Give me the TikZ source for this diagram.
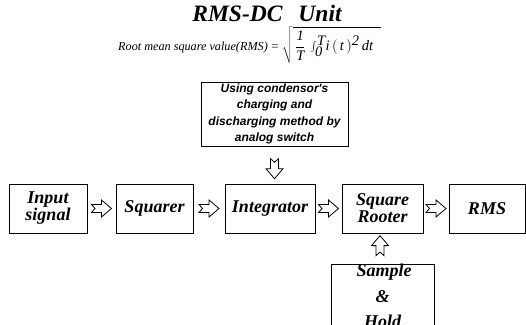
\documentclass[tikz,border=0pt]{standalone}
\usepackage{fontspec}
\setmainfont{Liberation Serif}
\newfontfamily\boxsans{Liberation Sans}
\begin{document}
\begin{tikzpicture}[x=1pt,y=-1pt,
  blk/.style={draw,line width=0.8pt,minimum height=49pt,inner sep=1pt,align=center,
    font=\fontsize{18}{19}\selectfont\bfseries\itshape},
  shtext/.style={font=\fontsize{18}{19}\selectfont\bfseries\itshape,inner sep=0pt},
  pics/hollowarrow/.style={code={
    \draw[line width=0.8pt,fill=white,line join=miter]
      (-10,-4) -- (0,-4) -- (0,-8.5) -- (10,0) -- (0,8.5) -- (0,4) -- (-10,4) -- (-6.5,0) -- cycle;}}
]
\useasboundingbox (0,0) rectangle (526,324);
\clip (0,0) rectangle (526,324);
\node[inner sep=0pt] (title) at (267,13) {\fontsize{23.5}{25}\selectfont\bfseries\itshape RMS-DC\hspace{16pt}Unit};
\node[anchor=west,inner sep=0pt] (formula) at (118,45) {\fontsize{12.2}{14}\selectfont\itshape Root mean square value(RMS) = \fontsize{14.5}{16}\selectfont$\sqrt{\,\displaystyle\frac{\textit{1}}{\textit{T}}\,\textstyle\int_{\textit{0}}^{\textit{T}}\!\textit{i}\,(\,\textit{t}\,)^{\textit{2}}\,\textit{dt}\;\;}$};
\node[blk,minimum width=78pt] (inp) at (48,208.5) {Input\\[-2pt]signal};
\node[blk,minimum width=77pt] (sq) at (154.5,208.5) {Squarer};
\node[blk,minimum width=90pt] (int) at (270,208.5) {Integrator};
\node[blk,minimum width=81pt] (sr) at (382.5,208.5) {Square\\[-2pt]Rooter};
\node[blk,minimum width=76pt] (rms) at (487,208.5) {RMS};
\node[draw,line width=0.8pt,minimum width=147pt,minimum height=64pt,inner sep=1pt,align=center,
  font=\boxsans\fontsize{12}{16.5}\selectfont\bfseries\itshape] (top) at (274.5,114)
  {Using condensor's\\charging and\\discharging method by\\analog switch};
\node[draw,line width=0.8pt,minimum width=103pt,minimum height=66pt,inner sep=0pt,anchor=north] (sh) at (382.5,264) {};
\node[shtext] (shtxt1) at (384,272) {Sample};
\node[shtext] (shtxt2) at (382.5,297) {\&};
\node[shtext] (shtxt3) at (382.5,321) {Hold};
\path (inp.east) -- (sq.west) pic[pos=0.5,sloped]{hollowarrow};
\path (sq.east) -- (int.west) pic[pos=0.5,sloped]{hollowarrow};
\path (int.east) -- (sr.west) pic[pos=0.5,sloped]{hollowarrow};
\path (sr.east) -- (rms.west) pic[pos=0.5,sloped]{hollowarrow};
\path (top.south) -- (top.south |- int.north) pic[pos=0.6,sloped]{hollowarrow};
\path (sh.north -| 380,0) -- (380,0 |- sr.south) pic[pos=0.6,sloped]{hollowarrow};
\end{tikzpicture}
\end{document}
